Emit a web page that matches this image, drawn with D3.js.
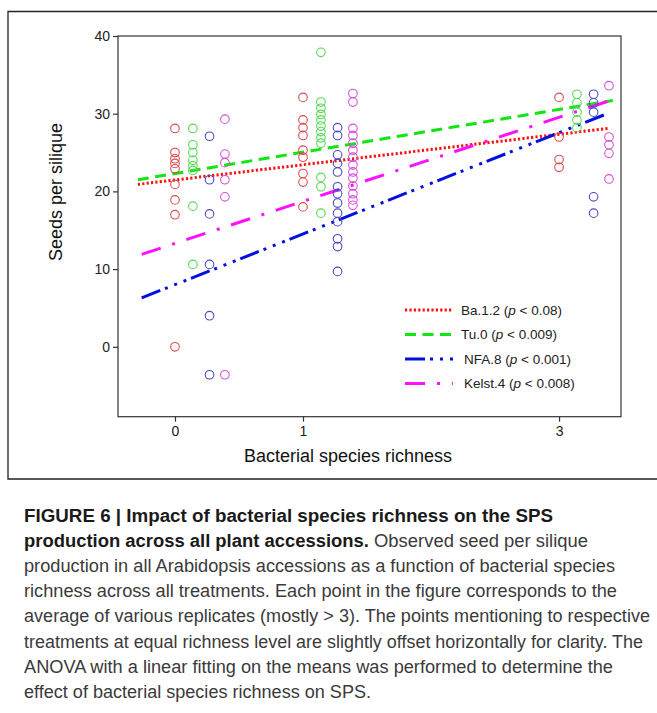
<!DOCTYPE html>
<html><head><meta charset="utf-8">
<script src="https://cdn.jsdelivr.net/npm/d3@7/dist/d3.min.js"></script>
<style>
html,body{margin:0;padding:0;background:#fff;}
svg{display:block;font-family:"Liberation Sans",Arial,sans-serif;}
</style></head>
<body>
<svg id="chart" width="657" height="713"></svg>
<script>
// ---- data ----
const richnessLevels = [0, 1, 3];
const xTickLabels = ["0", "1", "3"];
const yTickValues = [0, 10, 20, 30, 40];
const seriesNames = ["Ba.1.2", "Tu.0", "NFA.8", "Kelst.4"];
const seriesP = ["< 0.08", "< 0.009", "< 0.001", "< 0.008"];
const seriesOffset = [0, 0.14, 0.27, 0.39];

// values at richness 0, 1, 3
const ba12 = [
  [28.1, 25.0, 24.2, 23.6, 22.9, 20.9, 18.9, 17.0, 0.0],
  [32.1, 29.2, 28.2, 27.2, 25.3, 24.4, 22.3, 21.2, 18.0],
  [32.1, 27.0, 24.1, 23.1]
];
const tu0 = [
  [28.1, 26.0, 25.0, 24.0, 23.3, 22.7, 18.1, 10.6],
  [37.9, 31.5, 30.7, 29.9, 29.2, 28.4, 27.7, 26.9, 26.2, 21.8, 20.6, 17.2],
  [32.5, 31.4, 30.2, 29.2, 28.2]
];
const nfa8 = [
  [27.1, 21.5, 17.1, 10.6, 4.0, -3.6],
  [28.2, 27.2, 24.7, 23.6, 22.5, 20.6, 19.7, 18.5, 17.2, 16.1, 13.9, 12.9, 9.7],
  [32.5, 31.4, 30.2, 19.3, 17.2]
];
const kelst4 = [
  [29.3, 24.8, 23.7, 21.5, 19.3, -3.6],
  [32.6, 31.5, 28.1, 27.2, 26.2, 25.3, 24.4, 23.4, 22.5, 21.7, 20.7, 19.7, 18.9, 18.2],
  [33.6, 27.0, 26.0, 24.9, 21.6]
];
const seriesValues = [ba12, tu0, nfa8, kelst4];

// fitted lines: [x start, y start, x end, y end]
const fitLines = [
  [-0.29, 20.9, 3.38, 28.1],
  [-0.29, 21.5, 3.42, 31.7],
  [-0.26, 6.3, 3.36, 29.9],
  [-0.26, 11.9, 3.42, 31.8]
];

const captionLines = [
  {bold: "FIGURE 6 | Impact of bacterial species richness on the SPS", reg: "", w: 529},
  {bold: "production across all plant accessions.", reg: " Observed seed per silique", w: 564},
  {bold: "", reg: "production in all Arabidopsis accessions as a function of bacterial species", w: 591},
  {bold: "", reg: "richness across all treatments. Each point in the figure corresponds to the", w: 593},
  {bold: "", reg: "average of various replicates (mostly > 3). The points mentioning to respective", w: 626},
  {bold: "", reg: "treatments at equal richness level are slightly offset horizontally for clarity. The", w: 619},
  {bold: "", reg: "ANOVA with a linear fitting on the means was performed to determine the", w: 589},
  {bold: "", reg: "effect of bacterial species richness on SPS.", w: 347}
];

// ---- styles ----
const circleColors = ["#dd4a4a", "#55d855", "#4a4ac8", "#d650d6"];
const lineColors = ["#ff1010", "#10e610", "#0010dd", "#ff10ff"];
const dashes = ["2.2,2.2", "11,6.5", "20,5,3,7,3,7,3,5", "20,12,3,12"];
const legendDashes = ["2.2,2.2", "11,6.5", "20,5,3,7,3,7,3,5", "20,12,3,12"];

const svg = d3.select("#chart");

// outer frame
svg.append("path")
  .attr("d", "M660,11.5 H8 V479 H660")
  .attr("fill", "none").attr("stroke", "#222").attr("stroke-width", 1.3);

const L = 118, R = 621, T = 36, B = 416.7;
const x = d3.scaleLinear().domain([-0.445, 3.484]).range([L, R]);
const y = d3.scaleLinear().domain([-9, 40]).range([B, T]);

const g = svg.append("g");

// plot box
g.append("rect").attr("x", L).attr("y", T).attr("width", R - L).attr("height", B - T)
  .attr("fill", "none").attr("stroke", "#333").attr("stroke-width", 1.2);

// axes
const yAxis = d3.axisLeft(y).tickValues(yTickValues).tickSize(5).tickPadding(3);
const ya = g.append("g").attr("transform", `translate(${L},0)`).call(yAxis);
const xAxis = d3.axisBottom(x).tickValues(richnessLevels).tickFormat((d, i) => xTickLabels[i]).tickSize(5).tickPadding(4);
const xa = g.append("g").attr("transform", `translate(0,${B})`).call(xAxis);
[ya, xa].forEach(a => {
  a.select(".domain").remove();
  a.selectAll("line").attr("stroke", "#333").attr("stroke-width", 1.2);
  a.selectAll("text").attr("fill", "#222").style("font-size", "14px").style("font-family", "Liberation Sans, Arial, sans-serif");
});

// axis titles
svg.append("text").attr("x", 348).attr("y", 462).attr("text-anchor", "middle")
  .style("font-size", "18px").attr("fill", "#111").text("Bacterial species richness");
svg.append("text").attr("transform", "translate(62,192) rotate(-90)").attr("text-anchor", "middle")
  .style("font-size", "18px").attr("fill", "#111").text("Seeds per silique");

// fit lines
fitLines.forEach((f, i) => {
  g.append("line")
    .attr("x1", x(f[0])).attr("y1", y(f[1])).attr("x2", x(f[2])).attr("y2", y(f[3]))
    .attr("stroke", lineColors[i]).attr("stroke-width", 3)
    .attr("stroke-dasharray", dashes[i]);
});

// points
seriesValues.forEach((sv, si) => {
  sv.forEach((vals, li) => {
    g.selectAll(null).data(vals).enter().append("circle")
      .attr("cx", x(richnessLevels[li] + seriesOffset[si]))
      .attr("cy", d => y(d))
      .attr("r", 4.3)
      .attr("fill", "none")
      .attr("stroke", circleColors[si])
      .attr("stroke-width", 1.1);
  });
});

// legend
const legY = [310, 334.5, 359, 383.5];
const legTextX = [461, 461, 464, 464];
seriesNames.forEach((n, i) => {
  g.append("line").attr("x1", 405).attr("x2", 453).attr("y1", legY[i]).attr("y2", legY[i])
    .attr("stroke", lineColors[i]).attr("stroke-width", 3).attr("stroke-dasharray", legendDashes[i]);
  const t = g.append("text").attr("x", legTextX[i]).attr("y", legY[i] + 4.5)
    .style("font-size", "13.5px").attr("fill", "#222");
  t.append("tspan").text(n + " (");
  t.append("tspan").style("font-style", "italic").text("p");
  t.append("tspan").text(" " + seriesP[i] + ")");
});

// caption
captionLines.forEach((c, i) => {
  const t = svg.append("text").attr("x", 24).attr("y", 522 + i * 25.1)
    .style("font-size", "17.5px")
    .attr("textLength", c.w).attr("lengthAdjust", "spacingAndGlyphs");
  if (c.bold) t.append("tspan").style("font-weight", "bold").attr("fill", "#1a1a1a").text(c.bold);
  if (c.reg) t.append("tspan").attr("fill", "#3a3a3a").text(c.reg);
});
</script>
</body></html>
